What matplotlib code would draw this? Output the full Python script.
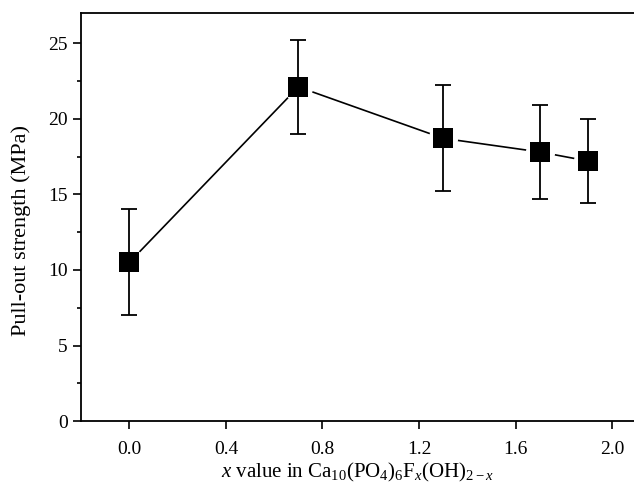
import numpy as np
import matplotlib
matplotlib.use("Agg")
import matplotlib.pyplot as plt
from matplotlib.ticker import MultipleLocator

plt.rcParams['font.family'] = ['Liberation Serif', 'DejaVu Serif']
plt.rcParams['mathtext.fontset'] = 'custom'
plt.rcParams['mathtext.rm'] = 'Liberation Serif'
plt.rcParams['mathtext.it'] = 'Liberation Serif:italic'

# data
x_value = [0.0, 0.7, 1.3, 1.7, 1.9]
strength = [10.5, 22.1, 18.7, 17.8, 17.2]
err = [3.5, 3.1, 3.5, 3.1, 2.75]

x_ticks = [0.0, 0.4, 0.8, 1.2, 1.6, 2.0]
y_ticks = [0, 5, 10, 15, 20, 25]

fig = plt.figure(figsize=(6.34, 4.91), dpi=100)
ax = fig.add_axes([0.1278, 0.142, 0.8722, 0.832])

# connecting line, white halo round markers, error bars, black markers
ax.plot(x_value, strength, color="black", lw=1.2, zorder=1)
ax.plot(x_value, strength, ls="none", marker="o", ms=20, mfc="white", mec="white", zorder=2)
ax.errorbar(x_value, strength, yerr=err, fmt="none", ecolor="black", elinewidth=1.3,
            capsize=6, capthick=1.3, zorder=3)
ax.plot(x_value, strength, ls="none", marker="s", ms=14.4, mfc="black", mec="black",
        mew=0, zorder=4)

ax.set_xlim(-0.2, 2.09)
ax.set_ylim(0, 27)
ax.set_xticks(x_ticks)
ax.set_xticklabels([f"{t:.1f}" for t in x_ticks])
ax.set_yticks(y_ticks)
ax.yaxis.set_minor_locator(MultipleLocator(2.5))

for s in ["left", "bottom", "top"]:
    ax.spines[s].set_linewidth(1.3)
ax.spines["right"].set_visible(False)

ax.tick_params(axis="both", which="major", direction="out", length=6, width=1.2,
               labelsize=14, top=False, right=False)
ax.tick_params(axis="y", which="minor", direction="out", length=3, width=1.2)
ax.tick_params(axis="x", which="major", pad=8)

ax.set_ylabel("Pull-out strength (MPa)", fontsize=16)
ax.yaxis.set_label_coords(-0.09, 0.466)
ax.set_xlabel(r"$x$ value in Ca$_{10}$(PO$_4$)$_6$F$_x$(OH)$_{2-x}$", fontsize=15, labelpad=2)

fig.savefig("out.png", dpi=100)
